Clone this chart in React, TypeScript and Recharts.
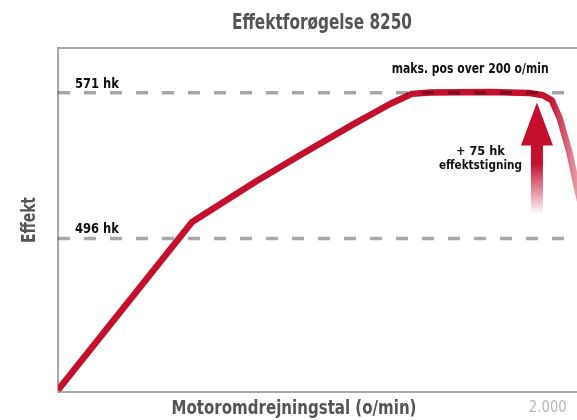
import React from 'react'
import {
  LineChart,
  Line,
  XAxis,
  YAxis,
  ReferenceLine,
  ReferenceArea,
  ReferenceDot
} from 'recharts'

// engine speed (o/min) and power (hk)
const rpm = [1000, 1271, 1400, 1489, 1600, 1671, 1715, 1752, 1873, 1954, 1980, 1998, 2014, 2034, 2048, 2075]
const effekt = [418, 504.5, 525.3, 538.8, 555.2, 565.2, 570.4, 571.1, 571.3, 570.8, 569.7, 567.1, 557.9, 540, 523.5, 492.8]

const xTicks = [2000]
const levels = [571, 496]
const levelLabels = ['571 hk', '496 hk']
const xDomain = [1000, 2150]
const yDomain = [417, 594]

// arrow annotation: from / to (hk) at given rpm
const arrowRpm = 1968
const arrowFrom = 509
const arrowTo = 566
const maxNoteRpm = 1833

const RED = '#c40f2f'
const GREY = '#a8a8a8'
const FONT = '"Liberation Sans Narrow", "DejaVu Sans Condensed", "Roboto Condensed", Arial, sans-serif'

const data = rpm.map((r, i) => ({ rpm: r, effekt: effekt[i] }))

const ArrowShape = (props: any) => {
  const { x1, y1, y2 } = props
  const cx = x1
  const top = Math.min(y1, y2)
  const bottom = Math.max(y1, y2)
  const headH = 43
  const headW = 16
  const shaftW = 6
  const d = `M${cx},${top} L${cx + headW},${top + headH} L${cx + shaftW},${top + headH} L${cx + shaftW},${bottom} L${cx - shaftW},${bottom} L${cx - shaftW},${top + headH} L${cx - headW},${top + headH} Z`
  return (
    <g>
      <path d={d} fill="url(#arrowGrad)" />
      <text x={cx - 56.5} y={top + 53} textAnchor="middle" fontFamily={FONT} fontWeight="bold" fontSize={13}
        fill="#111" textLength={49} lengthAdjust="spacingAndGlyphs">
        + 75 hk
      </text>
      <text x={cx - 56.5} y={top + 67} textAnchor="middle" fontFamily={FONT} fontWeight="bold" fontSize={13}
        fill="#111" textLength={83} lengthAdjust="spacingAndGlyphs">
        effektstigning
      </text>
    </g>
  )
}

const MaxNote = (props: any) => (
  <text x={props.cx} y={props.cy - 20} textAnchor="middle" fontFamily={FONT} fontWeight="bold" fontSize={13.5}
    fill="#111" textLength={157} lengthAdjust="spacingAndGlyphs">
    maks. pos over 200 o/min
  </text>
)

const RpmTick = (props: any) => (
  <text x={props.x - 5} y={412} textAnchor="middle" fontFamily={FONT} fontSize={15} fill="#b8b8b8"
    textLength={38} lengthAdjust="spacingAndGlyphs">
    {(props.payload.value / 1000).toFixed(3)}
  </text>
)

const App: React.FC = () => {
  return (
    <div style={{ position: 'fixed', left: 0, top: 0, width: 577, height: 420, overflow: 'hidden', background: '#fff' }}>
      <LineChart width={640} height={420} data={data} margin={{ top: 48, right: 13, bottom: 0, left: 58 }}>
        <defs>
          <linearGradient id="lineGrad" x1="0" y1="0" x2="1" y2="0">
            <stop offset="0.925" stopColor={RED} stopOpacity={1} />
            <stop offset="1" stopColor={RED} stopOpacity={0.15} />
          </linearGradient>
          <linearGradient id="arrowGrad" x1="0" y1="0" x2="0" y2="1">
            <stop offset="0" stopColor={RED} stopOpacity={1} />
            <stop offset="0.55" stopColor={RED} stopOpacity={1} />
            <stop offset="1" stopColor={RED} stopOpacity={0.03} />
          </linearGradient>
        </defs>
        <XAxis
          dataKey="rpm"
          type="number"
          domain={xDomain}
          ticks={xTicks}
          axisLine={false}
          tickLine={false}
          height={28}
          allowDataOverflow
          tick={RpmTick}
        />
        <YAxis hide type="number" domain={yDomain} allowDataOverflow />
        <ReferenceArea
          x1={xDomain[0]}
          x2={xDomain[1]}
          y1={yDomain[0]}
          y2={yDomain[1]}
          fill="none"
          stroke={GREY}
          strokeWidth={2}
          ifOverflow="visible"
        />
        <Line
          type="linear"
          dataKey="effekt"
          stroke="url(#lineGrad)"
          strokeWidth={6.5}
          strokeLinejoin="round"
          dot={false}
          isAnimationActive={false}
        />
        <ReferenceDot x={maxNoteRpm} y={levels[0]} r={0} shape={MaxNote} />
        <ReferenceLine
          segment={[{ x: arrowRpm, y: arrowFrom }, { x: arrowRpm, y: arrowTo }]}
          shape={ArrowShape}
        />
        {levels.map((lv, i) => (
          <ReferenceLine
            key={lv}
            y={lv}
            stroke={GREY}
            strokeWidth={3.5}
            strokeDasharray="12 14"
            style={{ mixBlendMode: 'multiply' }}
            label={{
              content: (p: any) => (
                <text x={p.viewBox.x + 17} y={p.viewBox.y - 5} fontFamily={FONT} fontWeight="bold" fontSize={14}
                  fill="#111" textLength={44} lengthAdjust="spacingAndGlyphs">
                  {levelLabels[i]}
                </text>
              )
            }}
          />
        ))}
        <text x={322} y={29} textAnchor="middle" fontFamily={FONT} fontWeight="bold" fontSize={21} fill="#555"
          textLength={180} lengthAdjust="spacingAndGlyphs">
          Effektforøgelse 8250
        </text>
        <text
          transform="translate(35,220) rotate(-90)"
          textAnchor="middle"
          fontFamily={FONT}
          fontWeight="bold"
          fontSize={20}
          fill="#555"
          textLength={46}
          lengthAdjust="spacingAndGlyphs"
        >
          Effekt
        </text>
        <text x={294} y={414} textAnchor="middle" fontFamily={FONT} fontWeight="bold" fontSize={19} fill="#555"
          textLength={245} lengthAdjust="spacingAndGlyphs">
          Motoromdrejningstal (o/min)
        </text>
      </LineChart>
    </div>
  )
}

export default App
